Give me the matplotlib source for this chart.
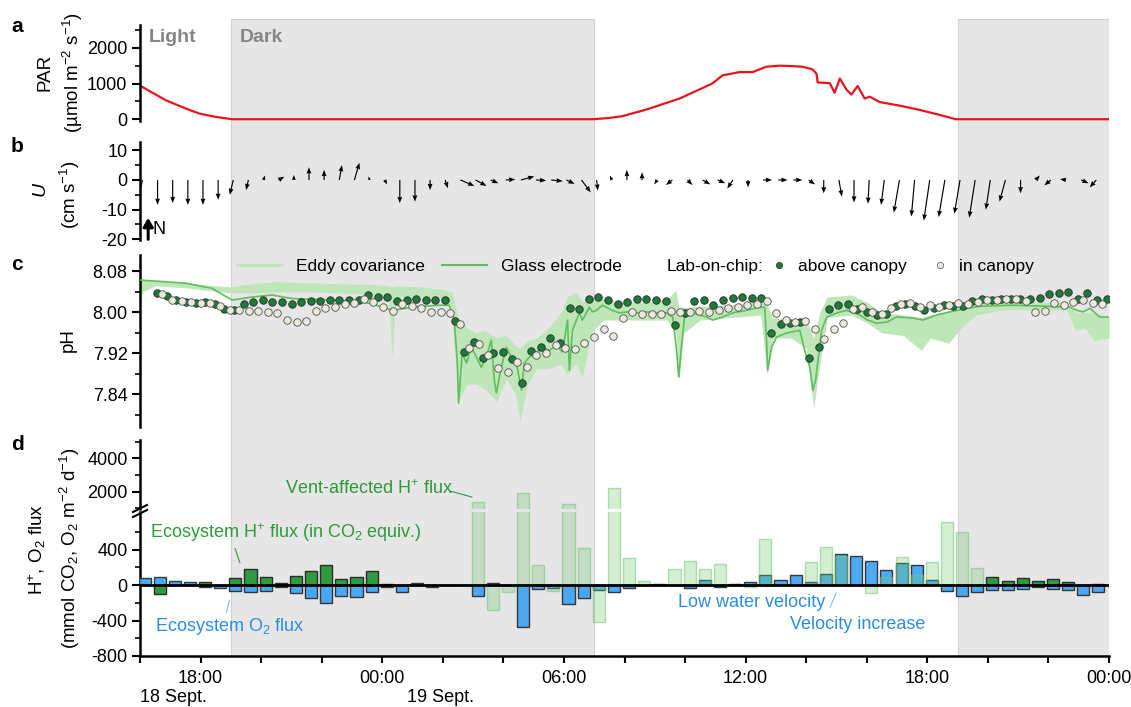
import numpy as np
import matplotlib
matplotlib.use("Agg")
import matplotlib.pyplot as plt
from matplotlib.lines import Line2D
from matplotlib.ticker import FixedLocator, FormatStrFormatter

plt.rcParams['font.family'] = ['Liberation Sans', 'DejaVu Sans']
plt.rcParams['mathtext.fontset'] = 'custom'
plt.rcParams['mathtext.rm'] = 'Liberation Sans'
plt.rcParams['mathtext.it'] = 'Liberation Sans:italic'
plt.rcParams['mathtext.bf'] = 'Liberation Sans:bold'
plt.rcParams['mathtext.default'] = 'regular'
plt.rcParams['axes.unicode_minus'] = False

# ---------------- data (time = hours since 18 Sept 00:00) ----------------
T_MIN, T_MAX = 16.0, 48.0
dark_periods = [(19.0, 31.0), (43.0, 48.0)]
tick_hours = [18, 24, 30, 36, 42, 48]
tick_labels = ['18:00', '00:00', '06:00', '12:00', '18:00', '00:00']
minor_hours = [16, 20, 22, 26, 28, 32, 34, 38, 40, 44, 46]
date_labels = ['18 Sept.', '19 Sept.']
date_pos = [17.12, 25.94]

# a: PAR
par_t = [16.0, 16.85, 17.51, 17.95, 18.5, 19.04, 30.94, 31.45, 31.93, 32.72, 33.82, 34.9, 35.24,
         35.8, 36.23, 36.68, 37.12, 37.5, 37.88, 38.2, 38.34, 38.38, 38.78, 38.94, 39.11, 39.33,
         39.49, 39.7, 39.93, 40.1, 40.43, 41.09, 41.75, 42.41, 42.94, 48.0]
par_v = [940, 532, 300, 160, 65, 0, 0, 30, 85, 270, 580, 1000, 1230,
         1320, 1320, 1470, 1500, 1490, 1470, 1400, 1280, 1030, 1010, 740, 1140, 830,
         690, 930, 580, 630, 480, 380, 260, 120, 0, 0]

# b: current velocity vectors (cm s-1), every 30 min
arrow_t = 16.08 + 0.5 * np.arange(64)
u_east = [-1.5, 0, 0, 0, 0, 0, -1.2, -0.8, 0.5, 1.9, 0, 0, 0, 0.9, 1.7, -0.3, 0.8, 0, 0,
          0, 0.9, 4.7, 3.7, 2.6, 3.2, 4.5, 3.4, 3.9, 2.8, 3.1, 0.4, -0.6, 0, 0, -1.0, -2.2,
          1.7, 2.6, 2.5, -1.9, 0, 3.0, 3.1, 3.0,
          2.2, 0, 1.0, 0, -0.4, -1.1, -1.9, -1.1, -2.0, -2.1, -1.9, -2.0, -1.5, -2.0, 0, 1.4,
          -2.2, -2.0, 2.5, -2.2]
v_north = [-7, -8.4, -7.8, -8.4, -8.4, -6.7, -5, -3.4, 1.5, 1.1, 1.7, 4.3, 3.4, 5, 5.8, 1.2,
           -1.5, -7.8, -7.3,
           -3.4, -2.8, -2, -2, -1.1, 0.2, 1.2, -0.2, -0.4, -1.3, -4.2, -3.6, 1.5, 3.4, 2.6,
           -1.5, -1.7, -1.7, -1.5, -1.1, -2.9, -2.5, 0, 0, 0,
           -1.5, -4.5, -5.6, -7.6, -8, -8.4, -11, -12.3, -13.7, -12.5, -11.4, -12.7, -10,
           -7.3, -4.5, 1.5, -1.8, 0.3, -1.1, -2.5]

# c: pH
ge_t = [16.02, 16.52, 17.51, 18.38, 19.04, 19.70, 20.36, 21.02, 22.35, 23.24, 23.57, 23.90,
        24.33, 25.12, 25.88, 26.21, 26.38, 26.48, 26.52, 26.64, 26.78, 26.94, 27.11, 27.27,
        27.44, 27.60, 27.70, 27.77, 27.93, 28.10, 28.26, 28.43, 28.60, 28.69, 28.86, 29.09,
        29.29, 29.52, 29.75, 29.95, 30.12, 30.18, 30.28, 30.51, 30.61, 30.74, 30.84, 30.94,
        31.07, 31.27, 31.60, 31.83, 32.07, 32.40, 32.73, 33.06, 33.39, 33.59, 33.72, 33.79,
        33.88, 33.98, 34.25, 34.71, 34.91, 35.24, 35.57, 36.03, 36.46, 36.63, 36.69, 36.73,
        36.86, 37.02, 37.36, 37.79, 37.95, 38.12, 38.22, 38.31, 38.38, 38.51, 38.68, 39.01,
        39.34, 39.77, 40.03, 40.33, 40.66, 40.99, 41.52, 41.85, 42.31, 42.74, 43.31, 43.74,
        44.83, 45.95, 46.71, 46.94, 47.14, 47.37, 47.54, 47.70, 47.97]
ge_ph = [8.063, 8.061, 8.057, 8.047, 8.024, 8.030, 8.034, 8.027, 8.024, 8.021, 8.018, 8.012,
         8.004, 8.011, 8.014, 8.014, 7.985, 7.901, 7.823, 7.921, 7.901, 7.932, 7.913, 7.893,
         7.913, 7.946, 7.868, 7.843, 7.893, 7.932, 7.913, 7.901, 7.848, 7.901, 7.913, 7.921,
         7.932, 7.926, 7.936, 7.923, 7.985, 7.887, 7.965, 7.999, 7.985, 7.999, 8.010, 8.001,
         8.004, 8.014, 8.004, 7.999, 8.001, 7.999, 8.001, 7.999, 7.999, 7.991, 7.926, 7.874,
         7.932, 7.991, 7.999, 7.991, 7.985, 7.991, 7.999, 8.004, 8.010, 8.010, 7.946, 7.887,
         7.932, 7.952, 7.960, 7.965, 7.926, 7.893, 7.848, 7.868, 7.901, 7.965, 7.991, 7.999,
         8.004, 7.995, 7.985, 7.979, 7.981, 7.991, 7.989, 7.985, 7.995, 8.001, 8.008, 8.012,
         8.014, 8.012, 8.010, 8.004, 8.001, 8.008, 7.999, 7.991, 7.991]

ec_t = [16.00, 16.10, 16.50, 17.50, 18.40, 19.00, 19.70, 20.50, 21.50, 22.50, 23.50, 24.20,
        24.33, 24.45, 25.20, 26.00, 26.30, 26.50, 26.80, 27.10, 27.40, 27.77, 28.10, 28.40,
        28.55, 28.80, 29.10, 29.50, 29.90, 30.10, 30.40, 30.61, 30.90, 31.30, 32.00, 32.70,
        33.40, 33.70, 33.80, 33.95, 34.50, 35.50, 36.50, 36.70, 36.90, 37.50, 38.00, 38.25,
        38.45, 38.70, 39.50, 40.00, 40.50, 41.20, 41.80, 42.10, 42.70, 43.20, 43.60, 44.50,
        45.50, 46.60, 46.90, 47.20, 47.50, 48.00]
ec_lo = [8.030, 8.040, 8.052, 8.048, 8.042, 8.038, 8.038, 8.040, 8.040, 8.038, 8.036, 8.032,
         7.910, 8.030, 8.030, 8.028, 8.000, 7.826, 7.860, 7.860, 7.850, 7.826, 7.870, 7.840,
         7.787, 7.860, 7.890, 7.890, 7.900, 7.880, 7.900, 7.874, 7.960, 7.985, 7.985, 7.985,
         7.985, 7.960, 7.868, 7.960, 7.985, 7.990, 7.995, 7.880, 7.950, 7.950, 7.930, 7.813,
         7.900, 7.990, 7.995, 7.980, 7.960, 7.955, 7.926, 7.950, 7.940, 7.975, 7.995, 8.005,
         8.005, 8.005, 7.965, 7.970, 7.945, 7.950]
ec_hi = [8.066, 8.064, 8.062, 8.058, 8.052, 8.050, 8.056, 8.060, 8.058, 8.056, 8.055, 8.052,
         8.050, 8.052, 8.050, 8.045, 8.040, 7.990, 7.970, 7.960, 7.965, 7.950, 7.955, 7.935,
         7.930, 7.945, 7.950, 7.970, 8.000, 8.030, 8.040, 8.020, 8.030, 8.025, 8.020, 8.020,
         8.025, 8.043, 8.010, 8.010, 8.012, 8.015, 8.020, 8.015, 7.990, 7.985, 7.985, 7.950,
         8.000, 8.030, 8.034, 8.020, 8.000, 7.995, 7.990, 7.995, 8.000, 8.010, 8.018, 8.020,
         8.020, 8.020, 8.000, 8.000, 7.999, 7.990]

above_t = 16.57 + 0.3167 * np.arange(100)
above_ph = [8.037, 8.032, 8.025, 8.021, 8.018, 8.020, 8.016, 8.007, 8.005, 8.016,
            8.020, 8.025, 8.020, 8.021, 8.017, 8.020, 8.022, 8.023, 8.024, 8.025,
            8.025, 8.024, 8.034, 8.031, 8.031, 8.022, 8.025, 8.027, 8.025, 8.025,
            8.024, 7.983, 7.923, 7.943, 7.911, 7.920, 7.922, 7.910, 7.862, 7.925,
            7.933, 7.951, 7.940, 8.009, 8.006, 8.026, 8.031, 8.024, 8.016, 8.021,
            8.026, 8.027, 8.025, 8.023, 7.975, 7.998, 8.023, 8.025, 8.014, 8.024,
            8.029, 8.031, 8.029, 8.029, 7.959, 7.977, 7.979, 7.982, 7.912, 7.932,
            8.006, 8.014, 8.016, 8.006, 8.000, 7.995, 7.997, 8.012, 8.016, 8.013,
            8.005, 8.008, 8.014, 8.013, 8.012, 8.022, 8.026, 8.024, 8.027, 8.027,
            8.026, 8.027, 8.029, 8.036, 8.037, 8.039, 8.027, 8.038, 8.024, 8.026]
in_t = 16.74 + 0.3167 * np.arange(99)
in_ph = [8.036, 8.025, 8.023, 8.021, 8.018, 8.019, 8.012, 8.005, 8.005, 8.003,
         8.003, 8.001, 7.998, 7.986, 7.982, 7.983, 8.003, 8.008, 8.011, 8.016,
         8.018, 8.027, 8.021, 8.011, 8.003, 8.016, 8.012, 8.008, 8.000, 8.000,
         7.999, 7.977, 7.930, 7.938, 7.917, 7.891, 7.884, 7.904, 7.893, 7.917,
         7.920, 7.936, 7.930, 7.928, 7.940, 7.952, 7.967, 7.954, 7.990, 8.000,
         7.996, 7.996, 7.997, 8.003, 8.000, 8.001, 8.003, 8.001, 8.005, 8.008,
         8.011, 8.014, 8.016, 8.023, 7.999, 7.986, 7.982, 7.984, 7.967, 7.949,
         7.967, 7.980, 8.006, 8.010, 8.000, 7.997, 8.008, 8.016, 8.018, 8.011,
         8.014, 8.010, 8.014, 8.018, 8.016, 8.021, 8.025, 8.025, 8.027, 8.026,
         8.023, 8.001, 8.003, 8.018, 8.014, 8.021, 8.024, 8.018, 8.016]

# d: fluxes (mmol m-2 d-1), every 30 min
bar_t = 16.15 + 0.5 * np.arange(64)
eco_h = [0, -107, 0, 0, 38, 0, 84, 180, 95, 19, 103, 160, 229, 69, 95, 160, 15, 0, 0, 0, 5, 0,
         0, 0, 0, 0, 0, 0, 0, 0, 0, 0, 0, 0, 10, 0, 0, 0, 0, 8, 0, 0, 0, 0,
         0, 0, 0, 0, 0, 0, 0, 0, 0, 0, 0, 0, 88, 50, 80, 50, 65, 38, 0, 10]
eco_o2 = [76, 95, 50, 30, -27, -30, -65, -76, -65, -27, -88, -152, -202, -126, -133, -76, -27,
          -76, 22, -19, 0, 0,
          -126, 25, 0, -476, -50, -30, -210, -152, -57, -76, -38, 0, 0, 0, -38, 57, -27, 0,
          38, 110, 57, 118,
          38, 122, 350, 324, 274, 164, 248, 221, 57, -69, -126, -84, -57, -57, -50, -27, -46,
          -57, -114, -80]
vent_h = [0] * 22 + [1400, -278, -76, 1950, 221, -65, 1240, 420, -420, 2250, 305, 46, 0, 180,
                     274, 180, 240, 0, -27, 518, 0, 0, 255, 430, 324, 0, -88, 95, 316, 114,
                     263, 705, 602, 190] + [0] * 8

# ---------------- figure ----------------
W, H = 1131, 707
fig = plt.figure(figsize=(W / 100, H / 100), dpi=100)


def rect(x0, y0, x1, y1):
    return [x0 / W, 1 - y1 / H, (x1 - x0) / W, (y1 - y0) / H]


def ftext(x, y, s, **kw):
    return fig.text(x / W, 1 - y / H, s, **kw)


X0, X1 = 140, 1109
bg = fig.add_axes(rect(X0, 19, X1, 656), zorder=0)
bg.set_xlim(T_MIN, T_MAX)
bg.set_ylim(0, 1)
bg.axis('off')
for s, e in dark_periods:
    bg.axvspan(s, e, facecolor='#e6e6e6', edgecolor='#d2d2d2', lw=0.8)


def style(ax, bottom=False):
    ax.patch.set_alpha(0)
    for sp in ['top', 'right']:
        ax.spines[sp].set_visible(False)
    ax.spines['bottom'].set_visible(bottom)
    ax.spines['left'].set_linewidth(1.8)
    ax.spines['bottom'].set_linewidth(1.8)
    ax.set_xlim(T_MIN, T_MAX)
    ax.tick_params(axis='y', which='major', direction='out', length=6, width=1.5,
                   labelsize=13, pad=3)
    ax.tick_params(axis='y', which='minor', direction='out', length=3.5, width=1.2)
    if not bottom:
        ax.tick_params(axis='x', which='both', bottom=False, labelbottom=False)


# ---- a ----
axa = fig.add_axes(rect(X0, 25, X1, 121), zorder=2)
style(axa)
axa.plot(par_t, par_v, color='#e8141c', lw=1.6)
axa.set_ylim(-50, 2640)
axa.yaxis.set_major_locator(FixedLocator([0, 1000, 2000]))
axa.yaxis.set_minor_locator(FixedLocator([500, 1500, 2500]))
axa.text(16.3, 2300, 'Light', color='#858585', fontsize=14, fontweight='bold', va='center')
axa.text(19.3, 2300, 'Dark', color='#858585', fontsize=14, fontweight='bold', va='center')

# ---- b ----
axb = fig.add_axes(rect(X0, 141.7, X1, 239.6), zorder=2)
style(axb)
axb.set_ylim(-20.1, 12.9)
axb.quiver(arrow_t, np.zeros(len(arrow_t)), u_east, v_north, angles='uv', scale_units='y',
           scale=1, pivot='tail', width=0.0012, headwidth=4.2, headlength=5.5,
           headaxislength=5.0, minlength=0.5, color='black')
axb.yaxis.set_major_locator(FixedLocator([-20, -10, 0, 10]))
axb.yaxis.set_minor_locator(FixedLocator([-15, -5, 5]))
axb.annotate('', xy=(16.27, -12.8), xytext=(16.27, -20.0),
             arrowprops=dict(arrowstyle='-|>,head_width=0.3,head_length=0.5', lw=2.2,
                             color='black', shrinkA=0, shrinkB=0))
axb.text(16.42, -16.6, 'N', fontsize=13, va='center', ha='left')

# ---- c ----
axc = fig.add_axes(rect(X0, 255, X1, 426.7), zorder=2)
style(axc)
EC_COL = '#bfe6b9'
GE_COL = '#5cbf5c'
DARK_DOT = '#1d7a38'
LIGHT_DOT = '#ebe9dc'
axc.fill_between(ec_t, ec_lo, ec_hi, color=EC_COL, lw=0, zorder=2)
axc.plot(ge_t, ge_ph, color=GE_COL, lw=1.2, zorder=3)
axc.plot(above_t, above_ph, ls='', marker='o', ms=5.4, mfc=DARK_DOT, mec='#2b2b2b', mew=0.6,
         zorder=4)
axc.plot(in_t, in_ph, ls='', marker='o', ms=5.4, mfc=LIGHT_DOT, mec='#505050', mew=0.6,
         zorder=5)
axc.set_ylim(7.777, 8.112)
axc.yaxis.set_major_locator(FixedLocator([7.84, 7.92, 8.00, 8.08]))
axc.yaxis.set_minor_locator(FixedLocator([7.80, 7.88, 7.96, 8.04]))
axc.yaxis.set_major_formatter(FormatStrFormatter('%.2f'))

leg1 = axc.legend([Line2D([], [], color=EC_COL, lw=2), Line2D([], [], color=GE_COL, lw=1.5)],
                  ['Eddy covariance', 'Glass electrode'], loc='center left',
                  bbox_to_anchor=((237 - X0) / (X1 - X0), 0.935), ncol=2, frameon=False,
                  fontsize=12.5, handlelength=2.6, handletextpad=0.8, columnspacing=1.0,
                  borderaxespad=0, borderpad=0)
axc.add_artist(leg1)
axc.text((667 - X0) / (X1 - X0), 0.935, 'Lab-on-chip:', transform=axc.transAxes,
         fontsize=12.5, va='center', ha='left')
axc.legend([Line2D([], [], ls='', marker='o', ms=4.5, mfc=DARK_DOT, mec='#2b2b2b', mew=0.5),
            Line2D([], [], ls='', marker='o', ms=4.5, mfc=LIGHT_DOT, mec='#505050', mew=0.5)],
           ['above canopy', 'in canopy'], loc='center left',
           bbox_to_anchor=((770 - X0) / (X1 - X0), 0.935), ncol=2, frameon=False,
           fontsize=12.5, handlelength=1.0, handletextpad=0.6, columnspacing=1.4,
           borderaxespad=0, borderpad=0)

# ---- d ----
axu = fig.add_axes(rect(X0, 440, X1, 509), zorder=2)
axl = fig.add_axes(rect(X0, 511.7, X1, 656), zorder=2)
style(axu)
style(axl, bottom=True)
GREEN = '#2f9b3f'
BLUE = '#3fa2f2'
VENT_FC = (0.45, 0.78, 0.45, 0.30)
VENT_EC = (0.45, 0.78, 0.45, 0.55)
bw = 0.4
bt = np.asarray(bar_t)
eh = np.asarray(eco_h, float)
eo = np.asarray(eco_o2, float)
vh = np.asarray(vent_h, float)
for ax in (axu, axl):
    m = eh != 0
    ax.bar(bt[m], eh[m], width=bw, color=GREEN, edgecolor='#2b2b2b', lw=1.0, zorder=2)
    m = eo != 0
    ax.bar(bt[m], eo[m], width=bw, color=BLUE, alpha=0.92, edgecolor='#2b2b2b', lw=1.0,
           zorder=3)
    m = vh != 0
    ax.bar(bt[m], vh[m], width=bw, facecolor=VENT_FC, edgecolor=VENT_EC, lw=1.0, zorder=4)
axl.axhline(0, color='black', lw=2, zorder=5)
axu.set_ylim(964, 5100)
axl.set_ylim(-800, 826)
axu.yaxis.set_major_locator(FixedLocator([2000, 4000]))
axu.yaxis.set_minor_locator(FixedLocator([1000, 3000, 5000]))
axl.yaxis.set_major_locator(FixedLocator([-800, -400, 0, 400]))
axl.yaxis.set_minor_locator(FixedLocator([-600, -200, 200, 600]))
axl.xaxis.set_major_locator(FixedLocator(tick_hours))
axl.xaxis.set_minor_locator(FixedLocator(minor_hours))
axl.set_xticklabels(tick_labels)
axl.tick_params(axis='x', which='both', direction='out', length=5, width=1.5, labelsize=13,
                pad=5)
for lbl, pos in zip(date_labels, date_pos):
    axl.text(pos, -0.285, lbl, transform=axl.get_xaxis_transform(), ha='center', va='center',
             fontsize=13)

# break marks
for dy in (0, 5):
    fig.add_artist(Line2D([133 / W, 147 / W], [1 - (512 + dy) / H, 1 - (505 + dy) / H],
                          color='black', lw=1.5))

TXT_G = '#2e9a3a'
TXT_B = '#2b8ce8'
axu.text(20.79, 2180, 'Vent-affected H$^{+}$ flux', color=TXT_G, fontsize=13, va='center')
axu.plot([26.24, 26.96], [2040, 1680], color=TXT_G, lw=0.8, clip_on=False)
axl.text(16.33, 590, 'Ecosystem H$^{+}$ flux (in CO$_2$ equiv.)', color=TXT_G, fontsize=13,
         va='center')
axl.plot([19.14, 19.30], [411, 251], color=TXT_G, lw=0.8)
axl.text(16.5, -469, 'Ecosystem O$_2$ flux', color=TXT_B, fontsize=13, va='center')
axl.plot([18.86, 18.95], [-305, -171], color='#7fbdf0', lw=0.8)
axl.text(33.77, -194, 'Low water velocity', color=TXT_B, fontsize=13, va='center')
axl.plot([38.79, 38.99], [-251, -91], color='#7fbdf0', lw=0.8)
axl.text(37.47, -446, 'Velocity increase', color=TXT_B, fontsize=13, va='center')

# panel letters and axis labels
for lt, yy in zip('abcd', (26, 146, 264, 444)):
    ftext(17, yy, lt, fontsize=15, fontweight='bold', ha='center', va='center')
ftext(45, 72, 'PAR', rotation=90, fontsize=13.5, ha='center', va='center')
ftext(73, 72, '(µmol m$^{-2}$ s$^{-1}$)', rotation=90, fontsize=13.5, ha='center', va='center')
ftext(42, 190, '$\\mathit{U}$', rotation=90, fontsize=14, ha='center', va='center')
ftext(70, 195, '(cm s$^{-1}$)', rotation=90, fontsize=13.5, ha='center', va='center')
ftext(68, 340, 'pH', rotation=90, fontsize=13.5, ha='center', va='center')
ftext(37, 549, 'H$^{+}$, O$_2$ flux', rotation=90, fontsize=13.5, ha='center', va='center')
ftext(70, 548, '(mmol CO$_2$, O$_2$ m$^{-2}$ d$^{-1}$)', rotation=90, fontsize=13.5,
      ha='center', va='center')

fig.savefig('out.png', dpi=100)
